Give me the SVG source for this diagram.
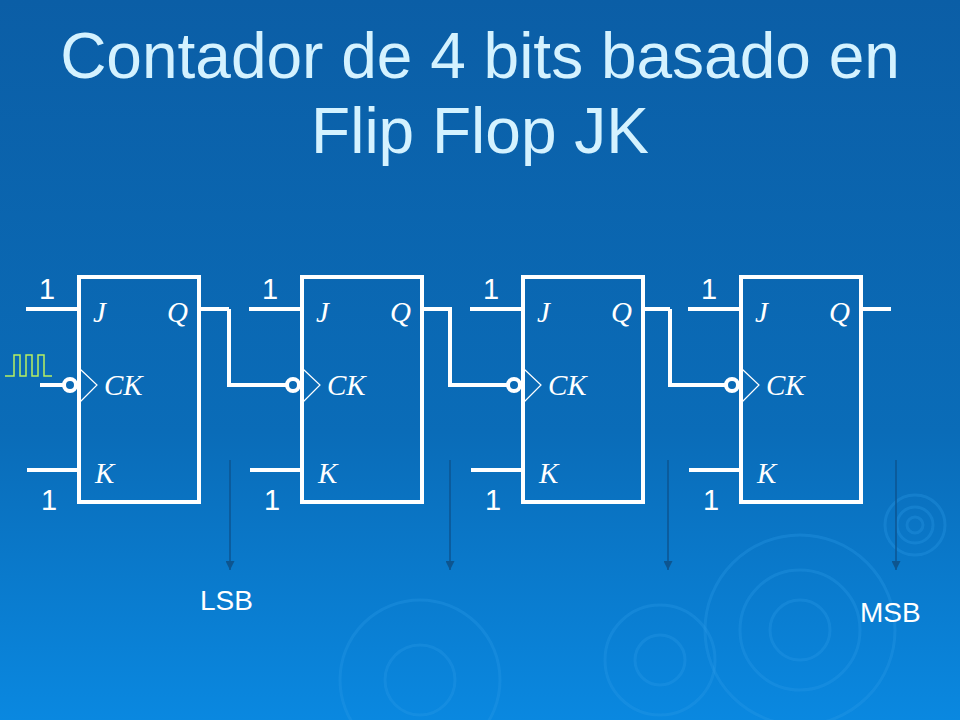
<svg xmlns="http://www.w3.org/2000/svg" width="960" height="720" viewBox="0 0 960 720">
<defs>
<linearGradient id="bg" x1="0" y1="0" x2="0" y2="1">
<stop offset="0" stop-color="#0b5ea6"/><stop offset="0.6" stop-color="#0a6cb8"/><stop offset="1" stop-color="#0a88e0"/>
</linearGradient>
<marker id="ah" viewBox="0 0 10 10" refX="10" refY="5" markerWidth="9" markerHeight="9" orient="auto" markerUnits="userSpaceOnUse">
<path d="M0,0 L10,5 L0,10 z" fill="#0d5590"/>
</marker>
<style>
.w{stroke:#fff;stroke-width:4;fill:none}
.t{stroke:#fff;stroke-width:1.2;fill:none}
.l{font-family:"Liberation Serif",serif;font-style:italic;font-size:29px;fill:#fff}
.n{font-family:"Liberation Sans",sans-serif;font-size:29px;fill:#fff}
.r{fill:none;stroke:#2d9be8;stroke-width:3;opacity:0.3}
.a{stroke:#0d5590;stroke-width:1.5;fill:none}
</style>
</defs>
<rect width="960" height="720" fill="url(#bg)"/>
<g id="ripples">
<circle class="r" cx="800" cy="630" r="30"/><circle class="r" cx="800" cy="630" r="60"/><circle class="r" cx="800" cy="630" r="95"/>
<circle class="r" cx="420" cy="680" r="35"/><circle class="r" cx="420" cy="680" r="80"/>
<circle class="r" cx="660" cy="660" r="25"/><circle class="r" cx="660" cy="660" r="55"/>
<circle class="r" cx="915" cy="525" r="8"/><circle class="r" cx="915" cy="525" r="18"/><circle class="r" cx="915" cy="525" r="30"/>
</g>
<g id="title" font-family="Liberation Sans,sans-serif" font-size="64" fill="#d4f2ff" text-anchor="middle">
<text x="480" y="78">Contador de 4 bits basado en</text>
<text x="480" y="153">Flip Flop JK</text>
</g>
<g id="clock"><path d="M5,376 H14 V355 H20 V376 H26 V355 H32 V376 H38 V355 H44 V376 H52" stroke="#b8f060" stroke-width="1.5" fill="none"/></g>
<g id="ff1">
<rect class="w" x="79" y="277" width="120" height="225"/>
<path class="w" d="M26,309H79M27,470H79M40,385H63M199,309H229"/>
<circle class="w" cx="70" cy="385" r="6"/>
<path class="t" d="M80,369L97,385L80,402"/>
<text class="l" x="93" y="322">J</text><text class="l" x="167" y="322">Q</text><text class="l" x="104" y="395">CK</text><text class="l" x="95" y="483">K</text>
<text class="n" x="39" y="299">1</text><text class="n" x="41" y="510">1</text>
</g>
<g id="ff2" transform="translate(223,0)">
<rect class="w" x="79" y="277" width="120" height="225"/>
<path class="w" d="M26,309H79M27,470H79M40,385H63M199,309H229"/>
<circle class="w" cx="70" cy="385" r="6"/>
<path class="t" d="M80,369L97,385L80,402"/>
<text class="l" x="93" y="322">J</text><text class="l" x="167" y="322">Q</text><text class="l" x="104" y="395">CK</text><text class="l" x="95" y="483">K</text>
<text class="n" x="39" y="299">1</text><text class="n" x="41" y="510">1</text>
</g>
<g id="ff3" transform="translate(444,0)">
<rect class="w" x="79" y="277" width="120" height="225"/>
<path class="w" d="M26,309H79M27,470H79M40,385H63M199,309H226"/>
<circle class="w" cx="70" cy="385" r="6"/>
<path class="t" d="M80,369L97,385L80,402"/>
<text class="l" x="93" y="322">J</text><text class="l" x="167" y="322">Q</text><text class="l" x="104" y="395">CK</text><text class="l" x="95" y="483">K</text>
<text class="n" x="39" y="299">1</text><text class="n" x="41" y="510">1</text>
</g>
<g id="ff4" transform="translate(662,0)">
<rect class="w" x="79" y="277" width="120" height="225"/>
<path class="w" d="M26,309H79M27,470H79M40,385H63M199,309H229"/>
<circle class="w" cx="70" cy="385" r="6"/>
<path class="t" d="M80,369L97,385L80,402"/>
<text class="l" x="93" y="322">J</text><text class="l" x="167" y="322">Q</text><text class="l" x="104" y="395">CK</text><text class="l" x="95" y="483">K</text>
<text class="n" x="39" y="299">1</text><text class="n" x="41" y="510">1</text>
</g>
<g id="connectors">
<path class="w" d="M229,309V385H264M450,309V385H486M670,309V385H704"/>
<path class="a" d="M230,460V570" marker-end="url(#ah)"/>
<path class="a" d="M450,460V570" marker-end="url(#ah)"/>
<path class="a" d="M668,460V570" marker-end="url(#ah)"/>
<path class="a" d="M896,460V570" marker-end="url(#ah)"/>
</g>
<g id="labels" font-family="Liberation Sans,sans-serif" font-size="28" fill="#fff">
<text x="200" y="610">LSB</text><text x="860" y="622">MSB</text>
</g>
</svg>
